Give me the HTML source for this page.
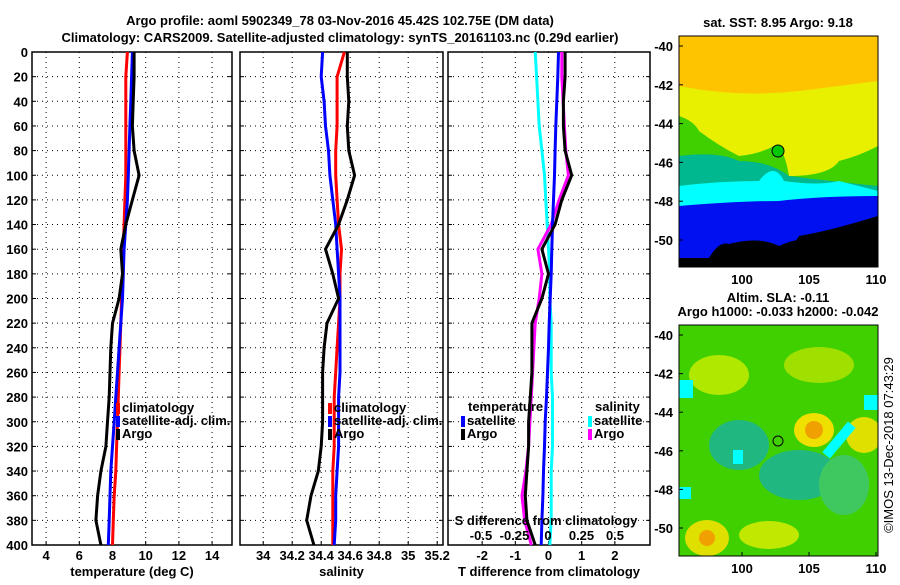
<!DOCTYPE html>
<html><head><meta charset="utf-8">
<style>
body{margin:0;background:#fff;font-family:"Liberation Sans",sans-serif;}
svg text{font-family:"Liberation Sans",sans-serif;font-weight:bold;font-size:13px;fill:#000}
</style></head><body>
<svg id="c" width="900" height="580" viewBox="0 0 900 580">
<text x="340" y="25" text-anchor="middle" font-size="14">Argo profile: aoml 5902349_78 03-Nov-2016 45.42S 102.75E (DM data)</text>
<text x="340" y="42" text-anchor="middle" font-size="14">Climatology: CARS2009. Satellite-adjusted climatology: synTS_20161103.nc (0.29d earlier)</text>
<g id="panels"></g>
<g id="maps">
<text x="778" y="27" text-anchor="middle" font-size="12">sat. SST: 8.95 Argo: 9.18</text>
<svg x="679" y="36" width="199" height="231" viewBox="0 0 199 231">
<rect width="199" height="231" fill="#ffc400"/>
<path d="M0 50 Q60 62 120 55 Q160 50 199 45 L199 231 L0 231Z" fill="#e8f000"/>
<path d="M0 80 Q15 85 20 95 Q40 110 60 120 Q80 118 95 110 Q105 110 110 140 Q150 140 160 125 Q180 120 199 110 L199 231 L0 231Z" fill="#40d000"/>
<path d="M0 120 Q40 115 60 125 Q90 125 110 140 Q150 145 199 150 L199 231 L0 231Z" fill="#00b890"/>
<path d="M0 150 Q40 145 80 145 Q95 125 105 145 Q140 150 160 145 Q180 150 199 155 L199 231 L0 231Z" fill="#00ffff"/>
<path d="M0 170 Q60 165 100 165 Q140 160 199 160 L199 231 L0 231Z" fill="#0010f0"/>
<path d="M0 222 L30 222 Q40 205 50 208 Q80 200 100 210 Q120 200 140 205 Q160 200 170 190 L199 185 L199 231 L0 231Z" fill="#000"/>
<path d="M120 200 Q150 195 199 180 L199 231 L100 231Z" fill="#000"/>
<circle cx="99" cy="115" r="6" fill="#00c800" stroke="#000"/>
</svg>
<rect x="679" y="36" width="199" height="231" fill="none" stroke="#000"/>
<text x="778" y="302" text-anchor="middle" font-size="12">Altim. SLA: -0.11</text>
<text x="778" y="316" text-anchor="middle" font-size="12">Argo h1000: -0.033 h2000: -0.042</text>
<svg x="679" y="325" width="199" height="231" viewBox="0 0 199 231">
<rect width="199" height="231" fill="#40d000"/>
<ellipse cx="40" cy="50" rx="30" ry="20" fill="#b0e800"/>
<ellipse cx="140" cy="40" rx="35" ry="18" fill="#a0e000"/>
<ellipse cx="60" cy="120" rx="30" ry="25" fill="#20b880"/>
<ellipse cx="120" cy="150" rx="40" ry="25" fill="#20b880"/>
<ellipse cx="135" cy="105" rx="20" ry="17" fill="#f0e000"/>
<ellipse cx="135" cy="105" rx="9" ry="9" fill="#f0a000"/>
<ellipse cx="28" cy="213" rx="22" ry="18" fill="#e0e000"/>
<ellipse cx="28" cy="213" rx="8" ry="8" fill="#f0a000"/>
<ellipse cx="185" cy="110" rx="18" ry="18" fill="#e0e000"/>
<ellipse cx="90" cy="210" rx="30" ry="14" fill="#c0e800"/>
<ellipse cx="165" cy="160" rx="25" ry="30" fill="#40c860"/>
<rect x="0" y="55" width="14" height="18" fill="#00ffff"/>
<rect x="185" y="70" width="14" height="15" fill="#00ffff"/>
<rect x="155" y="95" width="10" height="40" fill="#00ffff" transform="rotate(40 160 115)"/>
<rect x="54" y="125" width="10" height="14" fill="#00ffff"/>
<rect x="0" y="162" width="12" height="12" fill="#00ffff"/>
<circle cx="99" cy="116" r="5" fill="none" stroke="#000"/>
</svg>
<rect x="679" y="325" width="199" height="231" fill="none" stroke="#000"/>
<text x="893" y="445" text-anchor="middle" font-size="12" style="font-weight:normal" transform="rotate(-90 893 445)">©IMOS 13-Dec-2018 07:43:29</text>
</g>
</svg>
<script>
const NS="http://www.w3.org/2000/svg";
const depths=[0,20,40,60,80,100,120,140,160,180,200,220,240,260,280,300,320,340,360,380,400];
const tempClim=[8.9,8.8,8.8,8.8,8.8,8.8,8.75,8.7,8.65,8.6,8.55,8.5,8.45,8.4,8.35,8.3,8.25,8.2,8.1,8.05,8.0];
const tempSat=[9.2,9.15,9.1,9.05,9.0,8.95,8.9,8.8,8.7,8.65,8.6,8.5,8.4,8.3,8.2,8.1,8.0,7.9,7.85,7.8,7.75];
const tempArgo=[9.3,9.3,9.25,9.2,9.3,9.6,9.2,8.8,8.5,8.6,8.4,8.0,7.9,7.85,7.8,7.7,7.6,7.3,7.1,7.0,7.3];
const salClim=[34.56,34.51,34.51,34.51,34.5,34.5,34.51,34.52,34.54,34.53,34.53,34.52,34.51,34.5,34.49,34.49,34.49,34.48,34.48,34.48,34.48];
const salSat=[34.41,34.4,34.42,34.43,34.45,34.46,34.48,34.5,34.51,34.52,34.53,34.53,34.53,34.53,34.52,34.52,34.52,34.51,34.5,34.5,34.49];
const salArgo=[34.58,34.58,34.59,34.58,34.59,34.63,34.58,34.52,34.43,34.48,34.52,34.44,34.42,34.41,34.41,34.41,34.4,34.38,34.33,34.3,34.35];
const tDiffSat=[0.3,0.28,0.25,0.22,0.2,0.18,0.15,0.12,0.1,0.08,0.05,0.02,0,-0.03,-0.06,-0.1,-0.12,-0.15,-0.17,-0.2,-0.22];
const tDiffArgo=[0.5,0.5,0.45,0.45,0.5,0.7,0.4,0.2,-0.2,0,-0.2,-0.5,-0.5,-0.5,-0.55,-0.6,-0.6,-0.65,-0.7,-0.65,-0.4];
const sDiffSat=[-0.1,-0.09,-0.08,-0.07,-0.05,-0.03,-0.02,-0.01,0,0.01,0.01,0.02,0.02,0.02,0.03,0.03,0.03,0.02,0.02,0.02,0.01];
const sDiffArgo=[0.1,0.1,0.11,0.12,0.13,0.15,0.08,0.02,-0.08,-0.05,-0.07,-0.1,-0.11,-0.12,-0.13,-0.14,-0.15,-0.17,-0.2,-0.18,-0.13];
const depthTicks=[0,20,40,60,80,100,120,140,160,180,200,220,240,260,280,300,320,340,360,380,400];
const tempTicks=[4,6,8,10,12,14];
const salTicks=[34,34.2,34.4,34.6,34.8,35,35.2];
const tdTicks=[-2,-1,0,1,2];
const sdTicks=[-0.5,-0.25,0,0.25,0.5];
const Y0=52,Y1=545;
const yS=d=>Y0+(d/400)*(Y1-Y0);
const g=document.getElementById('panels');
function el(t,a,p){const e=document.createElementNS(NS,t);for(const k in a)e.setAttribute(k,a[k]);(p||g).appendChild(e);return e;}
function panel(name,x0,x1,v0,v1,ticks,xlabel,showY){
  const xs=v=>x0+(v-v0)/(v1-v0)*(x1-x0);
  const grp=el('g',{});
  
  
  depthTicks.forEach(d=>{
    if(d>0&&d<400)el('line',{x1:x0,x2:x1,y1:yS(d),y2:yS(d),stroke:'#000','stroke-dasharray':'1 4'},grp);
    el('line',{x1:x0,x2:x0+4,y1:yS(d),y2:yS(d),stroke:'#000'},grp);
    el('line',{x1:x1-4,x2:x1,y1:yS(d),y2:yS(d),stroke:'#000'},grp);
    if(showY){const t=el('text',{x:x0-4,y:yS(d)+5,'text-anchor':'end'},grp);t.textContent=d;
      
      }
  });
  ticks.forEach(v=>{
    const x=xs(v);
    el('line',{x1:x,x2:x,y1:Y0,y2:Y1,stroke:'#000','stroke-dasharray':'1 4'},grp);
    el('line',{x1:x,x2:x,y1:Y1-4,y2:Y1,stroke:'#000'},grp);
    const t=el('text',{x:x,y:Y1+15,'text-anchor':'middle'},grp);t.textContent=v;
    
    
  });
  el('rect',{x:x0,y:Y0,width:x1-x0,height:Y1-Y0,fill:'none',stroke:'#000','stroke-width':1.5},grp);
  const lab=el('text',{x:(x0+x1)/2,y:576,'text-anchor':'middle'},grp);lab.textContent=xlabel;
  
  
  return {xs,grp};
}
function line(p,vals,color,name,scale){
  const pts=vals.map((v,i)=>p.xs(v*(scale||1)).toFixed(1)+','+yS(depths[i]).toFixed(1)).join(' ');
  const l=el('polyline',{points:pts,fill:'none',stroke:color,'stroke-width':3},p.grp);
  
  
}
function legend(grp,x,y,items){
  items.forEach((it,i)=>{
    el('rect',{x:x,y:y+i*13-9,width:4,height:11,fill:it[1]},grp);
    const t=el('text',{x:x+6,y:y+i*13},grp);t.textContent=it[0];
    
    
  });
}
const p1=panel('temperature',32,232,3.15,15.2,tempTicks,'temperature (deg C)',true);
line(p1,tempClim,'#f00','temp-climatology-line');
line(p1,tempSat,'#00f','temp-satellite-line');
line(p1,tempArgo,'#000','temp-argo-line');
legend(p1.grp,116,412,[['climatology','#f00'],['satellite-adj. clim.','#00f'],['Argo','#000']]);
const p2=panel('salinity',240,443,33.84,35.24,salTicks,'salinity',false);
line(p2,salClim,'#f00','sal-climatology-line');
line(p2,salSat,'#00f','sal-satellite-line');
line(p2,salArgo,'#000','sal-argo-line');
legend(p2.grp,328,412,[['climatology','#f00'],['satellite-adj. clim.','#00f'],['Argo','#000']]);
const p3=panel('difference',448,650,-3.03,3.06,tdTicks,'T difference from climatology',false);
line(p3,sDiffSat,'#0ff','s-diff-satellite-line',4);
line(p3,sDiffArgo,'#f0f','s-diff-argo-line',4);
line(p3,tDiffSat,'#00f','t-diff-satellite-line');
line(p3,tDiffArgo,'#000','t-diff-argo-line');
const h1=el('text',{x:468,y:411},p3.grp);h1.textContent='temperature';


const h2=el('text',{x:595,y:411},p3.grp);h2.textContent='salinity';


legend(p3.grp,461,425,[['satellite','#00f'],['Argo','#000']]);
legend(p3.grp,588,425,[['satellite','#0ff'],['Argo','#f0f']]);
const st=el('text',{x:546,y:525,'text-anchor':'middle'},p3.grp);st.textContent='S difference from climatology';


sdTicks.forEach(v=>{const t=el('text',{x:548+v*134,y:540,'text-anchor':'middle'},p3.grp);t.textContent=v;
  
  });
const mg=document.getElementById('maps');
const latTicks=[-40,-42,-44,-46,-48,-50];
const lonTicks=[100,105,110];
[[36,267,46,240],[325,556,335,528]].forEach((m,k)=>{
  latTicks.forEach(la=>{const y=m[2]+(la+40)/-10*(m[3]-m[2]);
    el('line',{x1:679,x2:683,y1:y,y2:y,stroke:'#000'},mg);
    const t=el('text',{x:673,y:y+5,'text-anchor':'end'},mg);t.textContent=la;
    
    });
  lonTicks.forEach(lo=>{const x=742+(lo-100)*13.4;
    el('line',{x1:x,x2:x,y1:m[1]-4,y2:m[1],stroke:'#000'},mg);
    const t=el('text',{x:x,y:m[1]+17,'text-anchor':'middle'},mg);t.textContent=lo;
    
    });
});
</script>
</body></html>
